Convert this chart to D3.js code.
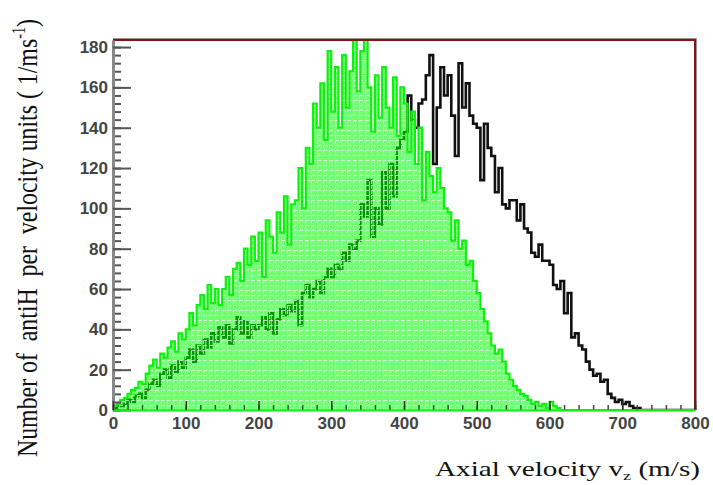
<!DOCTYPE html>
<html>
<head>
<meta charset="utf-8">
<script src="https://cdn.jsdelivr.net/npm/d3@7"></script>
<style>
  body { margin: 0; background: #fff; }
  svg { display: block; }
</style>
</head>
<body>
<div id="my_dataviz"></div>
<script>
// histogram bins: 5 m/s wide, counts (missing bins = 0)
const binWidth = 5;
const xTicks = [0, 100, 200, 300, 400, 500, 600, 700, 800];
const yTicks = [0, 20, 40, 60, 80, 100, 120, 140, 160, 180];

const greenCounts = [
  2, 3, 5, 6, 8, 10, 11, 14, 13, 18,
  22, 25, 21, 28, 26, 31, 34, 29, 38, 35,
  40, 48, 42, 52, 57, 50, 62, 53, 60, 52,
  60, 66, 57, 70, 73, 64, 80, 72, 86, 74,
  88, 66, 94, 86, 78, 98, 88, 106, 82, 102,
  104, 120, 100, 130, 122, 152, 140, 162, 134, 178,
  148, 170, 140, 176, 150, 168, 184, 158, 178, 184,
  160, 138, 166, 145, 170, 150, 140, 165, 136, 160,
  152, 128, 148, 122, 140, 104, 128, 116, 108, 120,
  110, 100, 98, 84, 94, 80, 84, 72, 74, 64,
  58, 50, 44, 38, 32, 28, 30, 24, 18, 15,
  12, 10, 8, 7, 5, 3, 4, 2, 3, 1,
  4, 2, 1
];

const blackCounts = [
  1, 2, 2, 3, 5, 4, 7, 8, 6, 10,
  13, 15, 12, 18, 20, 16, 22, 19, 24, 21,
  26, 30, 24, 32, 28, 35, 31, 38, 34, 41,
  36, 42, 33, 40, 46, 38, 44, 36, 42, 40,
  42, 46, 40, 48, 38, 45, 50, 47, 52, 49,
  54, 42, 58, 62, 56, 60, 64, 58, 66, 70,
  66, 72, 70, 78, 74, 82, 80, 84, 102, 96,
  114, 86, 100, 92, 118, 100, 122, 106, 130, 134,
  138, 156, 144, 140, 152, 154, 166, 176, 122, 150,
  170, 156, 166, 146, 126, 172, 150, 162, 146, 142,
  140, 114, 142, 130, 126, 108, 120, 102, 100, 104,
  104, 94, 102, 90, 88, 78, 76, 82, 74, 74,
  72, 62, 60, 64, 48, 58, 36, 38, 32, 30,
  24, 20, 17, 18, 14, 15, 8, 6, 4, 5,
  3, 4, 2, 1, 1
];

var margin = {top: 40, right: 18, bottom: 75, left: 113},
    width = 713 - margin.left - margin.right,
    height = 485 - margin.top - margin.bottom;

const svg = d3.select("#my_dataviz")
  .append("svg")
    .attr("width", 713)
    .attr("height", 485);

const g = svg.append("g")
    .attr("transform", `translate(${margin.left},${margin.top})`);

const x = d3.scaleLinear().domain([0, 800]).range([0, width]);
const y = d3.scaleLinear().domain([0, 183.5]).range([height, 0]);

// turn counts into step points, padded with zeros up to 800
function steps(counts) {
  const nb = Math.round(800 / binWidth);
  const pts = [];
  for (let i = 0; i < nb; i++) pts.push([i * binWidth, counts[i] || 0]);
  pts.push([800, counts[nb - 1] || 0]);
  return pts;
}

const defs = svg.append("defs");
defs.append("clipPath").attr("id", "clip")
  .append("rect").attr("width", width).attr("height", height + 2).attr("y", -1);

// hatched light green fill
const pat = defs.append("pattern")
    .attr("id", "hatch")
    .attr("patternUnits", "userSpaceOnUse")
    .attr("width", 6).attr("height", 5);
pat.append("rect").attr("width", 6).attr("height", 5).attr("fill", "rgba(0,255,0,0.55)");
pat.append("line").attr("x1", 0).attr("x2", 4).attr("y1", 0.5).attr("y2", 0.5)
  .attr("stroke", "rgba(255,255,255,0.65)").attr("stroke-width", 1);
pat.append("line").attr("x1", 0.5).attr("x2", 0.5).attr("y1", 1).attr("y2", 4)
  .attr("stroke", "rgba(255,255,255,0.65)").attr("stroke-width", 1);

const plot = g.append("g").attr("clip-path", "url(#clip)");

const stepLine = d3.line()
  .x(d => x(d[0])).y(d => y(d[1]))
  .curve(d3.curveStepAfter);

const stepArea = d3.area()
  .x(d => x(d[0])).y0(y(0)).y1(d => y(d[1]))
  .curve(d3.curveStepAfter);

// black histogram (under the green one)
plot.append("path")
  .datum(steps(blackCounts))
  .attr("fill", "none")
  .attr("stroke", "#111")
  .attr("stroke-width", 2.6)
  .attr("d", stepLine);

// green histogram
plot.append("path")
  .datum(steps(greenCounts))
  .attr("fill", "url(#hatch)")
  .attr("d", stepArea);

plot.append("path")
  .datum(steps(greenCounts))
  .attr("fill", "none")
  .attr("stroke", "#10f010")
  .attr("stroke-width", 2.2)
  .attr("d", stepLine);

// frame top + right (dark red with grey edge)
g.append("path")
  .attr("d", `M0,-1.5H${width + 1.5}V${height}`)
  .attr("fill", "none").attr("stroke", "#999").attr("stroke-width", 1);
g.append("path")
  .attr("d", `M0,0H${width}V${height}`)
  .attr("fill", "none").attr("stroke", "#8b1010").attr("stroke-width", 2);

// Y axis, ticks pointing inside
const yMinor = g.append("g")
  .call(d3.axisLeft(y).tickValues(d3.range(0, 184, 4)).tickSize(-8).tickFormat(""));
yMinor.selectAll("line").attr("stroke", "#555").attr("stroke-width", 2);
yMinor.select(".domain").remove();

const yAxis = g.append("g")
  .call(d3.axisLeft(y).tickValues(yTicks).tickSize(-18).tickSizeOuter(0).tickPadding(5));
yAxis.selectAll("line").attr("stroke", "#555").attr("stroke-width", 2);
yAxis.select(".domain").attr("stroke", "#888").attr("stroke-width", 3);
yAxis.selectAll("text")
  .style("font-family", "'Liberation Sans', Arial, sans-serif")
  .style("font-size", "17px").style("font-weight", "bold")
  .attr("fill", "#444");

// X axis
const xMinor = g.append("g")
  .attr("transform", `translate(0,${height})`)
  .call(d3.axisBottom(x).tickValues(d3.range(0, 801, 20)).tickSize(-5).tickFormat(""));
xMinor.selectAll("line").attr("stroke", "#444").attr("stroke-width", 1.5);
xMinor.select(".domain").remove();

const xAxis = g.append("g")
  .attr("transform", `translate(0,${height})`)
  .call(d3.axisBottom(x).tickValues(xTicks).tickSize(-9).tickSizeOuter(0).tickPadding(7));
xAxis.selectAll("line").attr("stroke", "#333").attr("stroke-width", 1.5);
xAxis.select(".domain").attr("stroke", "#14ee14").attr("stroke-width", 2);
xAxis.selectAll("text")
  .style("font-family", "'Liberation Sans', Arial, sans-serif")
  .style("font-size", "17px").style("font-weight", "bold")
  .attr("fill", "#444");

// axis titles (the original figure is stretched sideways)
svg.append("text")
  .attr("transform", "translate(37,457) scale(1.5,1) rotate(-90)")
  .attr("textLength", 438)
  .attr("lengthAdjust", "spacingAndGlyphs")
  .style("font-family", "'Liberation Serif', 'Times New Roman', serif")
  .style("font-size", "20px")
  .attr("fill", "#111")
  .html("Number of &#160;antiH &#160;per &#160;velocity units ( 1/ms<tspan dy='-8' font-size='12px'>-1</tspan><tspan dy='8'>)</tspan>");

svg.append("text")
  .attr("x", 435)
  .attr("y", 476)
  .attr("textLength", 265)
  .attr("lengthAdjust", "spacingAndGlyphs")
  .style("font-family", "'Liberation Serif', 'Times New Roman', serif")
  .style("font-size", "21px")
  .attr("fill", "#111")
  .html("Axial velocity v<tspan dy='4' font-size='13px'>z</tspan><tspan dy='-4'> (m/s)</tspan>");
</script>
</body>
</html>
